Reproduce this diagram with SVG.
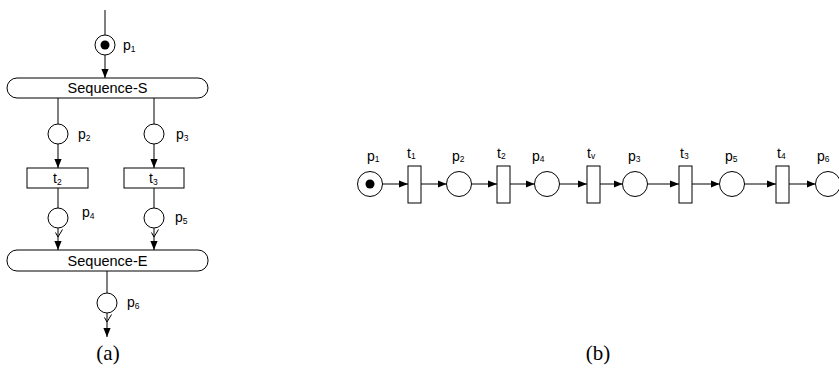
<svg xmlns="http://www.w3.org/2000/svg" width="839" height="370" viewBox="0 0 839 370">
<style>
.pl{fill:#fff;stroke:#000;stroke-width:1}
.tr{fill:#fff;stroke:#000;stroke-width:1}
.ln{fill:none;stroke:#000;stroke-width:1}
.ar{fill:none;stroke:#000;stroke-width:1;marker-end:url(#ah)}
.tk{fill:#000}
.lb{font-family:"Liberation Sans",Arial,sans-serif;font-size:14px;fill:#000}
.sb{font-size:8.5px}
.cp{font-family:"Liberation Serif","Times New Roman",serif;font-size:21px;fill:#000}
</style>
<defs>
<marker id="ah" viewBox="0 0 10 8" refX="10" refY="4" markerWidth="9" markerHeight="8" markerUnits="userSpaceOnUse" orient="auto">
<path d="M0,0 L10,4 L0,8 z" fill="#000"/>
</marker>
</defs>
<rect width="839" height="370" fill="#fff"/>
<g id="connectors">
<line class="ln" x1="105" y1="10" x2="105" y2="35"/>
<line class="ar" x1="105" y1="55" x2="105" y2="78"/>
<line class="ln" x1="58" y1="98" x2="58" y2="124"/>
<line class="ln" x1="154" y1="98" x2="154" y2="124"/>
<line class="ar" x1="58" y1="144" x2="58" y2="168"/>
<line class="ar" x1="154" y1="144" x2="154" y2="168"/>
<line class="ln" x1="58" y1="188" x2="58" y2="208"/>
<line class="ln" x1="154" y1="188" x2="154" y2="208"/>
<line class="ar" x1="58" y1="228" x2="58" y2="250"/>
<path class="ln" d="M55.5,232.5 L58,237 L62.5,229.5"/>
<line class="ar" x1="154" y1="228" x2="154" y2="250"/>
<path class="ln" d="M151.5,232.5 L154,237 L158.5,229.5"/>
<line class="ln" x1="107" y1="271" x2="107" y2="293"/>
<line class="ar" x1="107" y1="313" x2="107" y2="337"/>
<path class="ln" d="M104.5,317.5 L107,322 L111.5,314.5"/>
<line class="ar" x1="382.5" y1="184" x2="408" y2="184"/>
<line class="ar" x1="421" y1="184" x2="446.5" y2="184"/>
<line class="ar" x1="471.5" y1="184" x2="497" y2="184"/>
<line class="ar" x1="510" y1="184" x2="534.5" y2="184"/>
<line class="ar" x1="559.5" y1="184" x2="587" y2="184"/>
<line class="ar" x1="600" y1="184" x2="622.5" y2="184"/>
<line class="ar" x1="647.5" y1="184" x2="679" y2="184"/>
<line class="ar" x1="692" y1="184" x2="719.5" y2="184"/>
<line class="ar" x1="744.5" y1="184" x2="776" y2="184"/>
<line class="ar" x1="789" y1="184" x2="815.5" y2="184"/>
</g>
<g id="a-p1"><circle class="pl" cx="105" cy="45" r="10"/><circle class="tk" cx="105" cy="45" r="4.5"/><text class="lb" x="123" y="50">p<tspan class="sb" dy="2">1</tspan></text></g>
<g id="a-seqS"><rect class="tr" x="7" y="78" width="201" height="20" rx="10" ry="10"/><text class="lb" x="107.5" y="93" text-anchor="middle" style="font-size:14.5px">Sequence-S</text></g>
<g id="a-p2"><circle class="pl" cx="58" cy="134" r="10"/><text class="lb" x="78" y="139">p<tspan class="sb" dy="2">2</tspan></text></g>
<g id="a-p3"><circle class="pl" cx="154" cy="134" r="10"/><text class="lb" x="176" y="139">p<tspan class="sb" dy="2">3</tspan></text></g>
<g id="a-t2"><rect class="tr" x="27" y="168" width="61" height="20"/><text class="lb" x="53" y="183">t<tspan class="sb" dy="2">2</tspan></text></g>
<g id="a-t3"><rect class="tr" x="124" y="168" width="60" height="20"/><text class="lb" x="149" y="183">t<tspan class="sb" dy="2">3</tspan></text></g>
<g id="a-p4"><circle class="pl" cx="58" cy="218" r="10"/><text class="lb" x="82" y="217">p<tspan class="sb" dy="2">4</tspan></text></g>
<g id="a-p5"><circle class="pl" cx="154" cy="218" r="10"/><text class="lb" x="175" y="222">p<tspan class="sb" dy="2">5</tspan></text></g>
<g id="a-seqE"><rect class="tr" x="7" y="250" width="201" height="21" rx="10" ry="10"/><text class="lb" x="107.5" y="265.5" text-anchor="middle" style="font-size:14.5px">Sequence-E</text></g>
<g id="a-p6"><circle class="pl" cx="107" cy="303" r="10"/><text class="lb" x="127" y="307">p<tspan class="sb" dy="2">6</tspan></text></g>
<text class="cp" x="108" y="360" text-anchor="middle">(a)</text>
<g id="b-p1"><circle class="pl" cx="370" cy="184" r="12.5"/><circle class="tk" cx="370" cy="184" r="4.5"/><text class="lb" x="367" y="161">p<tspan class="sb" dy="1">1</tspan></text></g>
<g id="b-t1"><rect class="tr" x="408" y="166" width="13" height="37"/><text class="lb" x="407" y="158">t<tspan class="sb" dy="1">1</tspan></text></g>
<g id="b-p2"><circle class="pl" cx="459" cy="184" r="12.5"/><text class="lb" x="452" y="161">p<tspan class="sb" dy="1">2</tspan></text></g>
<g id="b-t2"><rect class="tr" x="497" y="166" width="13" height="37"/><text class="lb" x="497" y="158">t<tspan class="sb" dy="1">2</tspan></text></g>
<g id="b-p4"><circle class="pl" cx="547" cy="184" r="12.5"/><text class="lb" x="532" y="161">p<tspan class="sb" dy="1">4</tspan></text></g>
<g id="b-tv"><rect class="tr" x="587" y="166" width="13" height="37"/><text class="lb" x="587" y="158">t<tspan class="sb" dy="1">v</tspan></text></g>
<g id="b-p3"><circle class="pl" cx="635" cy="184" r="12.5"/><text class="lb" x="628" y="161">p<tspan class="sb" dy="1">3</tspan></text></g>
<g id="b-t3"><rect class="tr" x="679" y="166" width="13" height="37"/><text class="lb" x="680" y="158">t<tspan class="sb" dy="1">3</tspan></text></g>
<g id="b-p5"><circle class="pl" cx="732" cy="184" r="12.5"/><text class="lb" x="725" y="161">p<tspan class="sb" dy="1">5</tspan></text></g>
<g id="b-t4"><rect class="tr" x="776" y="166" width="13" height="37"/><text class="lb" x="777" y="158">t<tspan class="sb" dy="1">4</tspan></text></g>
<g id="b-p6"><circle class="pl" cx="828" cy="184" r="12.5"/><text class="lb" x="817" y="161">p<tspan class="sb" dy="1">6</tspan></text></g>
<text class="cp" x="598" y="360" text-anchor="middle">(b)</text>
</svg>
